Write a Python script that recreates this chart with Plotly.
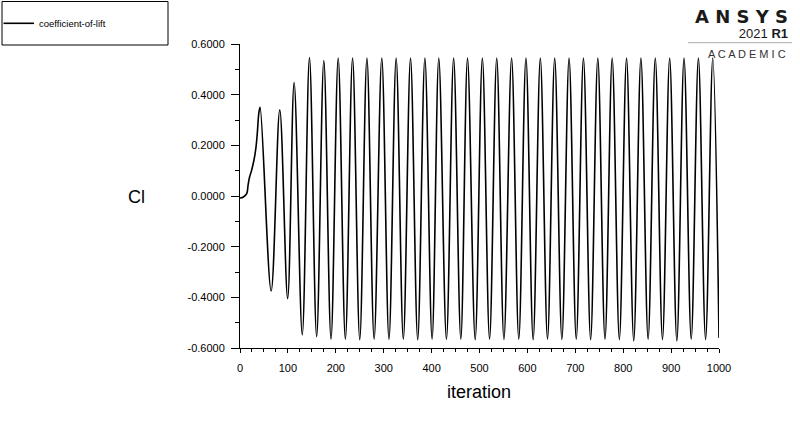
import plotly.graph_objects as go

# ---- data (extrema and early transient) ----
iterations = [0, 7, 14, 17, 20, 24, 29, 33, 36, 39.5, 42, 65, 83, 99.5, 113,
              130, 145, 160, 175, 190, 205, 220, 235, 250, 265, 280, 296, 311, 326,
              341, 356, 371, 386, 401, 415, 431, 446, 461, 475, 491, 506, 521, 536,
              551, 567, 582, 597, 612, 627, 642, 657, 672, 687, 702, 717, 732, 747,
              762, 777, 792, 807, 822, 837, 852, 867, 882, 897, 912, 927, 942, 957,
              972, 987, 1000]
cl_values = [-0.008, -0.004, 0.009, 0.045, 0.075, 0.100, 0.140, 0.187, 0.245, 0.330, 0.350,
             -0.375, 0.340, -0.405, 0.448,
             -0.548, 0.547, -0.555, 0.535, -0.565, 0.545, -0.565, 0.545, -0.567, 0.545,
             -0.565, 0.545, -0.566, 0.545, -0.565, 0.545, -0.567, 0.545, -0.565, 0.545,
             -0.566, 0.545, -0.565, 0.545, -0.567, 0.545, -0.565, 0.545, -0.566, 0.545,
             -0.565, 0.545, -0.567, 0.545, -0.565, 0.545, -0.566, 0.545, -0.565, 0.545,
             -0.567, 0.545, -0.565, 0.545, -0.566, 0.545, -0.572, 0.545, -0.565, 0.545,
             -0.566, 0.545, -0.572, 0.545, -0.565, 0.545, -0.566, 0.545, -0.560]

x_tick_vals = [0, 100, 200, 300, 400, 500, 600, 700, 800, 900, 1000]
x_tick_text = ["0", "100", "200", "300", "400", "500", "600", "700", "800", "900", "1000"]
y_tick_vals = [0.6, 0.4, 0.2, 0.0, -0.2, -0.4, -0.6]
y_tick_text = ["0.6000", "0.4000", "0.2000", "0.0000", "-0.2000", "-0.4000", "-0.6000"]

series_name = "coefficient-of-lift"
x_title = "iteration"
y_title = "Cl"

# ---- layout geometry (pixels) ----
W, H = 800, 436
L, R, T, B = 240, 81, 44, 88
PW, PH = W - L - R, H - T - B


def px(x):
    return (x - L) / PW


def py(y):
    return (H - B - y) / PH


FONT = "Liberation Sans, Arial, sans-serif"

fig = go.Figure()
fig.add_trace(go.Scatter(
    x=iterations, y=cl_values, mode="lines", name=series_name,
    line=dict(color="black", width=1.6, shape="spline", smoothing=1),
    hoverinfo="x+y",
))

axis_common = dict(showline=True, linecolor="black", linewidth=1, showgrid=False,
                   zeroline=False, ticks="outside", tickcolor="black",
                   tickfont=dict(family=FONT, size=11, color="black"), tickmode="array")

fig.update_xaxes(range=[0, 1000], tickvals=x_tick_vals, ticktext=x_tick_text, ticklen=4,
                 ticklabelstandoff=6,
                 minor=dict(tickmode="linear", tick0=0, dtick=25, ticks="outside",
                            ticklen=3, tickcolor="black"),
                 **axis_common)
fig.update_yaxes(range=[-0.6, 0.6], tickvals=y_tick_vals, ticktext=y_tick_text, ticklen=8,
                 ticklabelstandoff=4,
                 minor=dict(tickmode="linear", tick0=0, dtick=0.1, ticks="outside",
                            ticklen=4, tickcolor="black"),
                 **axis_common)

annotations = [
    dict(text=y_title, x=px(136), y=py(197), xref="paper", yref="paper",
         showarrow=False, font=dict(family=FONT, size=18, color="black"),
         xanchor="center", yanchor="middle"),
    dict(text=x_title, x=px(479), y=py(392), xref="paper", yref="paper",
         showarrow=False, font=dict(family=FONT, size=18, color="black"),
         xanchor="center", yanchor="middle"),
    dict(text=series_name, x=px(37), y=py(23), xref="paper", yref="paper",
         showarrow=False, font=dict(family=FONT, size=9.5, color="black"),
         xanchor="left", yanchor="middle"),
    dict(text=("<span style='font-size:18px;font-family:DejaVu Sans'><b>A N S Y S</b></span><br>"
               "<span style='font-size:13px'>2021 <b>R1</b></span>"),
         x=px(789), y=py(5), xref="paper", yref="paper", align="right",
         showarrow=False, font=dict(family=FONT, size=11.5, color="#1a1a1a"),
         xanchor="right", yanchor="top", borderpad=0),
    dict(text="A C A D E M I C", x=px(788), y=py(54), xref="paper", yref="paper",
         showarrow=False, font=dict(family=FONT, size=11, color="#333333"),
         xanchor="right", yanchor="middle"),
]

shapes = [
    dict(type="rect", xref="paper", yref="paper", x0=px(2), x1=px(168), y0=py(45), y1=py(1.5),
         line=dict(color="black", width=1), fillcolor="rgba(0,0,0,0)"),
    dict(type="line", xref="paper", yref="paper", x0=px(3.5), x1=px(34), y0=py(23.3), y1=py(23.3),
         line=dict(color="black", width=1.6)),
    dict(type="line", xref="paper", yref="paper", x0=px(688), x1=px(792), y0=py(42.7), y1=py(42.7),
         line=dict(color="#aaaaaa", width=1)),
]

fig.update_layout(width=W, height=H, margin=dict(l=L, r=R, t=T, b=B),
                  paper_bgcolor="white", plot_bgcolor="white", showlegend=False,
                  font=dict(family=FONT), annotations=annotations, shapes=shapes)

fig.write_html("out.html", config={"displayModeBar": False},
               post_script="document.body.style.margin='0px';")
